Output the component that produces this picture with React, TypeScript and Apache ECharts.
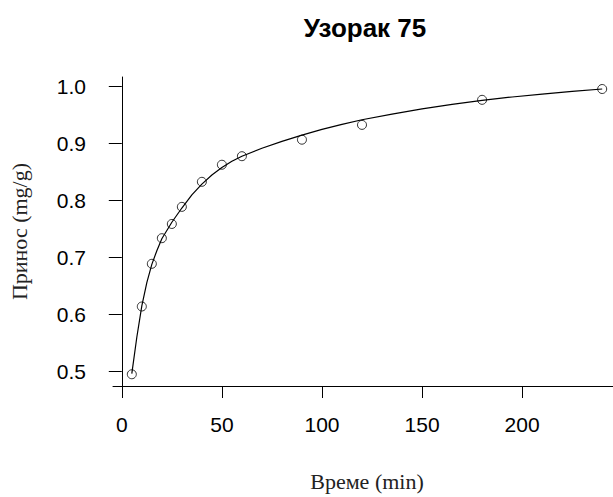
import React, { useEffect, useRef } from "react";
import * as echarts from "echarts";

// Measured sorption: time (min) and uptake (mg/g)
const timeMin = [5, 10, 15, 20, 25, 30, 40, 50, 60, 90, 120, 180, 240];
const uptake = [0.495, 0.614, 0.689, 0.734, 0.759, 0.789, 0.833, 0.863, 0.878, 0.907, 0.933, 0.977, 0.996];

// Fitted kinetic curve, sampled along time
const fitTime = [5, 7.5, 10, 12.5, 15, 17.5, 20, 25, 30, 35, 40, 45, 50, 55, 60, 70, 80, 90, 100, 110, 120, 135, 150, 165, 180, 195, 210, 225, 240];
const fitUptake = [
  0.496, 0.56, 0.615, 0.656, 0.688, 0.712, 0.733, 0.762, 0.787, 0.81, 0.829, 0.845, 0.858, 0.869, 0.878,
  0.892, 0.904, 0.915, 0.925, 0.934, 0.942, 0.952, 0.961, 0.969, 0.976, 0.982, 0.987, 0.992, 0.996,
];

const xTicks = [0, 50, 100, 150, 200];
const yTicks = [0.5, 0.6, 0.7, 0.8, 0.9, 1.0];

const SANS = "'Liberation Sans', Arial, sans-serif";
const SERIF = "'Liberation Serif', 'Times New Roman', serif";

export default function App() {
  const ref = useRef<HTMLDivElement>(null);

  useEffect(() => {
    if (!ref.current) return;
    const chart = echarts.init(ref.current, undefined, { renderer: "svg" });
    chart.setOption({
      animation: false,
      backgroundColor: "#ffffff",
      graphic: [
        {
          type: "text",
          x: 365,
          y: 28,
          style: {
            text: "Узорак 75",
            fontFamily: SANS,
            fontWeight: "bold",
            fontSize: 26,
            fill: "#000",
            align: "center",
            verticalAlign: "middle",
          },
        },
      ],
      // the plot region runs past the right edge of the visible page
      grid: { left: 110, top: 77, width: 511, height: 318, containLabel: false },
      xAxis: {
        type: "value",
        min: -4.4,
        max: 249.4,
        name: "Време (min)",
        nameLocation: "middle",
        nameGap: 84,
        nameTextStyle: { fontFamily: SERIF, fontSize: 22, color: "#222" },
        axisLine: { show: true, lineStyle: { color: "#000", width: 1 } },
        axisTick: { show: true, length: 12, lineStyle: { color: "#000", width: 1 }, customValues: xTicks },
        axisLabel: {
          margin: 28,
          fontFamily: SANS,
          fontSize: 21,
          color: "#000",
          customValues: xTicks,
          formatter: (v: number) => String(v),
        },
        splitLine: { show: false },
      },
      yAxis: {
        type: "value",
        min: 0.4744,
        max: 1.0171,
        name: "Принос (mg/g)",
        nameLocation: "middle",
        nameGap: 83,
        nameTextStyle: { fontFamily: SERIF, fontSize: 22, color: "#222" },
        axisLine: { show: true, lineStyle: { color: "#000", width: 1 } },
        axisTick: { show: true, length: 13, lineStyle: { color: "#000", width: 1 }, customValues: yTicks },
        axisLabel: {
          margin: 27,
          fontFamily: SANS,
          fontSize: 21,
          color: "#000",
          customValues: yTicks,
          formatter: (v: number) => v.toFixed(1),
        },
        splitLine: { show: false },
      },
      series: [
        {
          type: "line",
          data: fitTime.map((t, i) => [t, fitUptake[i]]),
          showSymbol: false,
          smooth: false,
          lineStyle: { color: "#000", width: 1.2 },
          silent: true,
          z: 2,
        },
        {
          type: "scatter",
          data: timeMin.map((t, i) => [t, uptake[i]]),
          symbol: "circle",
          symbolSize: 9,
          itemStyle: { color: "rgba(0,0,0,0)", borderColor: "#000", borderWidth: 1 },
          z: 3,
        },
      ],
    });
    return () => chart.dispose();
  }, []);

  return (
    <div
      style={{
        position: "absolute",
        left: 0,
        top: 0,
        width: 613,
        height: 497,
        overflow: "hidden",
        background: "#fff",
      }}
    >
      <div ref={ref} style={{ width: 640, height: 497 }} />
    </div>
  );
}
